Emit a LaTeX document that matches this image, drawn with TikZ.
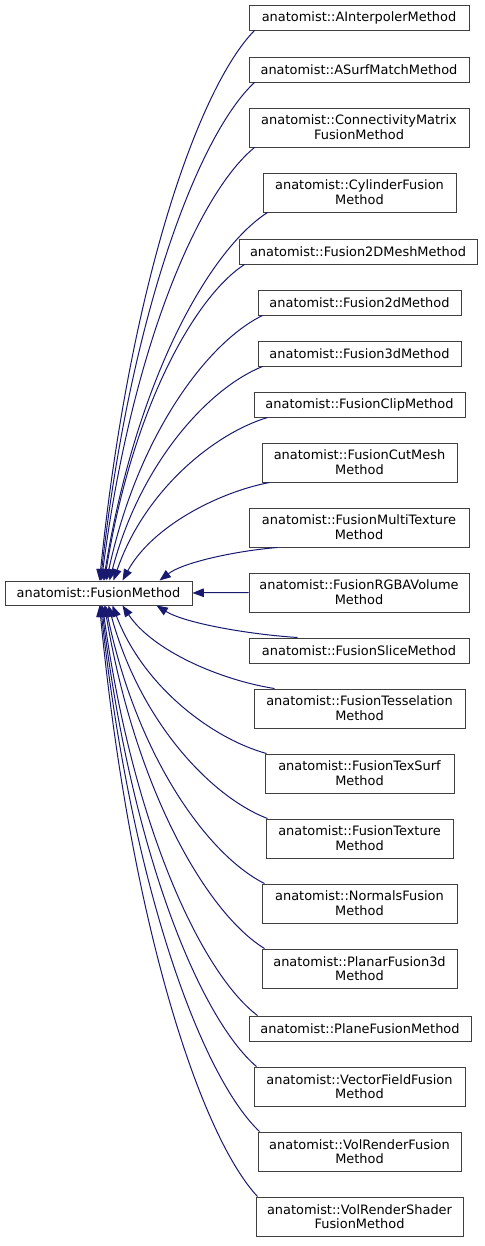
\documentclass[tikz,border=0pt]{standalone}
\usepackage{fontspec}
\setmainfont{DejaVu Sans}
\usetikzlibrary{arrows.meta,calc}
\definecolor{kantenblau}{RGB}{25,25,112}
\definecolor{rahmengrau}{RGB}{64,64,64}
\def\kante#1#2{
	\draw[kante] let \p1=#1, \p2=#2 in (\p1) .. controls ({\x1+0.2*(\x2-\x1)},{\y1+0.55*(\y2-\y1)}) and ({\x2-0.35*(\x2-\x1)},{\y2-0.1*(\y2-\y1)}) .. (\p2);
}
\begin{document}
\begin{tikzpicture}[x=0.75pt,y=-0.75pt,
	cls/.style={draw=rahmengrau,fill=white,line width=0.75pt,inner sep=0pt,align=center,
		font=\fontsize{9.7}{11}\selectfont,minimum height=25*0.75pt,minimum width=#1*0.75pt},
	zwei/.style={minimum height=39*0.75pt},
	kante/.style={{Triangle[length=8.5pt,width=6.5pt]}-,draw=kantenblau,line width=0.75pt}]
\useasboundingbox (0,0) rectangle (485,1246);
% base class
\node[cls=187,minimum height=24*0.75pt] (fm) at (98.5,593) {anatomist::FusionMethod};
% derived classes
\node[cls=220] (interp) at (359,17.5) {anatomist::AInterpolerMethod};
\node[cls=220] (surfm) at (359,69.5) {anatomist::ASurfMatchMethod};
\node[cls=220,zwei] (connect) at (359,127.5) {anatomist::ConnectivityMatrix\\FusionMethod};
\node[cls=193,zwei] (cylinder) at (359.5,192.5) {anatomist::CylinderFusion\\Method};
\node[cls=238] (mesh2d) at (358,251.5) {anatomist::Fusion2DMeshMethod};
\node[cls=203] (fus2d) at (359.5,302.5) {anatomist::Fusion2dMethod};
\node[cls=203] (fus3d) at (359.5,353.5) {anatomist::Fusion3dMethod};
\node[cls=211] (clip) at (359.5,404.5) {anatomist::FusionClipMethod};
\node[cls=195,zwei] (cutmesh) at (359.5,462.5) {anatomist::FusionCutMesh\\Method};
\node[cls=220,zwei] (multitex) at (359,527.5) {anatomist::FusionMultiTexture\\Method};
\node[cls=220,zwei] (rgba) at (359,592.5) {anatomist::FusionRGBAVolume\\Method};
\node[cls=220] (slice) at (359,650.5) {anatomist::FusionSliceMethod};
\node[cls=211,zwei] (tessel) at (359.5,708.5) {anatomist::FusionTesselation\\Method};
\node[cls=189,zwei] (texsurf) at (359.5,773.5) {anatomist::FusionTexSurf\\Method};
\node[cls=187,zwei] (texture) at (359.5,838.5) {anatomist::FusionTexture\\Method};
\node[cls=195,zwei] (normals) at (359.5,903.5) {anatomist::NormalsFusion\\Method};
\node[cls=195,zwei] (planar) at (359.5,968.5) {anatomist::PlanarFusion3d\\Method};
\node[cls=222] (plane) at (360,1028.5) {anatomist::PlaneFusionMethod};
\node[cls=211,zwei] (vecfield) at (359.5,1086.5) {anatomist::VectorFieldFusion\\Method};
\node[cls=203,zwei] (volrender) at (359.5,1151.5) {anatomist::VolRenderFusion\\Method};
\node[cls=207,zwei] (volshader) at (359.5,1216.5) {anatomist::VolRenderShader\\FusionMethod};
% inheritance edges, upper half
\kante{($(fm.north west)+(95,0)$)}{($(interp.south west)+(6,0)$)}
\kante{($(fm.north west)+(96,0)$)}{($(surfm.south west)+(6,0)$)}
\kante{($(fm.north west)+(97,0)$)}{($(connect.south west)+(6,0)$)}
\kante{($(fm.north west)+(99,0)$)}{($(cylinder.south west)+(5,0)$)}
\kante{($(fm.north west)+(100,0)$)}{($(mesh2d.south west)+(6,0)$)}
\kante{($(fm.north west)+(102,0)$)}{($(fus2d.south west)+(5,0)$)}
\kante{($(fm.north west)+(105,0)$)}{($(fus3d.south west)+(5,0)$)}
\kante{($(fm.north west)+(109,0)$)}{($(clip.south west)+(14,0)$)}
\kante{($(fm.north west)+(118,0)$)}{($(cutmesh.south west)+(8,0)$)}
\kante{($(fm.north west)+(155,0)$)}{($(multitex.south west)+(29,0)$)}
\kante{(fm.east)}{(rgba.west)}
% lower half
\kante{($(fm.south west)+(152,0)$)}{($(slice.north west)+(49,0)$)}
\kante{($(fm.south west)+(118,0)$)}{($(tessel.north west)+(21,0)$)}
\kante{($(fm.south west)+(108,0)$)}{($(texsurf.north west)+(2,0)$)}
\kante{($(fm.south west)+(104,0)$)}{($(texture.north west)+(2,0)$)}
\kante{($(fm.south west)+(101,0)$)}{($(normals.north west)+(3,0)$)}
\kante{($(fm.south west)+(100,0)$)}{($(planar.north west)+(3,0)$)}
\kante{($(fm.south west)+(98,0)$)}{($(plane.north west)+(9,0)$)}
\kante{($(fm.south west)+(97,0)$)}{($(vecfield.north west)+(3,0)$)}
\kante{($(fm.south west)+(96,0)$)}{($(volrender.north west)+(2,0)$)}
\kante{($(fm.south west)+(95,0)$)}{($(volshader.north west)+(2,0)$)}
\end{tikzpicture}
\end{document}
